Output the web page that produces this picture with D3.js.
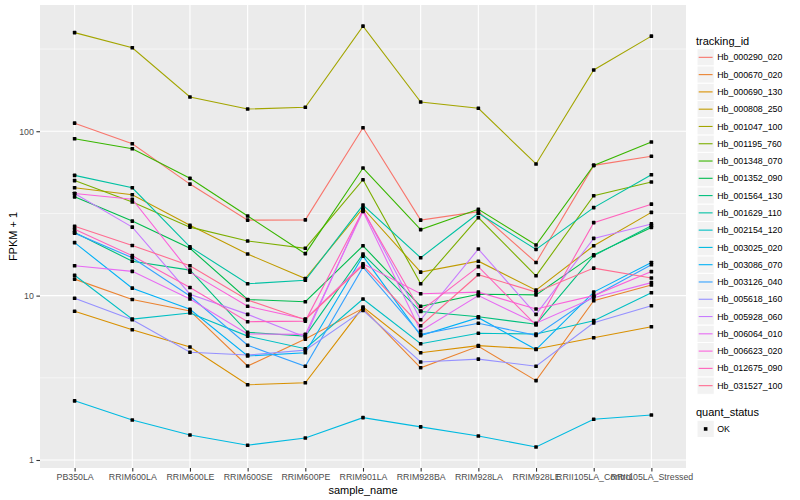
<!DOCTYPE html>
<html>
<head>
<meta charset="utf-8">
<script src="https://cdn.jsdelivr.net/npm/d3@7"></script>
<style>
  body { margin: 0; background: #fff; }
  text { font-family: "Liberation Sans", Arial, sans-serif; }
</style>
</head>
<body>
<div id="vis"></div>
<script>
const samples = ["PB350LA", "RRIM600LA", "RRIM600LE", "RRIM600SE", "RRIM600PE", "RRIM901LA",
  "RRIM928BA", "RRIM928LA", "RRIM928LE", "RRII105LA_Control", "RRII105LA_Stressed"];

const trackingIds = ["Hb_000290_020", "Hb_000670_020", "Hb_000690_130", "Hb_000808_250",
  "Hb_001047_100", "Hb_001195_760", "Hb_001348_070", "Hb_001352_090", "Hb_001564_130",
  "Hb_001629_110", "Hb_002154_120", "Hb_003025_020", "Hb_003086_070", "Hb_003126_040",
  "Hb_005618_160", "Hb_005928_060", "Hb_006064_010", "Hb_006623_020", "Hb_012675_090",
  "Hb_031527_100"];

// FPKM + 1, one list per tracking id, in sample order
const hb_000290_020 = [112, 84, 47.7, 28.8, 28.9, 105, 28.8, 32.4, 15.9, 62, 70.4];
const hb_000670_020 = [12.6, 9.47, 8.07, 3.73, 5.44, 8.37, 3.64, 4.92, 3.04, 9.31, 11.6];
const hb_000690_130 = [8.04, 6.2, 4.87, 2.87, 2.95, 8.52, 4.49, 4.96, 4.73, 5.54, 6.47];
const hb_000808_250 = [45.3, 41.1, 26.8, 17.9, 12.7, 34.0, 13.9, 16.2, 10.8, 20.1, 32.1];
const hb_001047_100 = [398, 322, 161.5, 136.5, 140, 436, 150.5, 138, 63.2, 236, 379];
const hb_001195_760 = [50.1, 37.1, 26.1, 21.5, 19.4, 50.7, 11.8, 29.8, 13.2, 40.5, 49.1];
const hb_001348_070 = [90, 78.3, 51.7, 30.5, 18.0, 59.7, 25.2, 33.5, 20.3, 62, 86];
const hb_001352_090 = [39.9, 28.4, 19.4, 9.47, 9.18, 20.1, 8.61, 10.2, 10.1, 17.7, 26.0];
const hb_001564_130 = [24.2, 16.2, 14.3, 5.98, 5.67, 17.9, 8.0, 7.44, 6.7, 17.5, 26.6];
const hb_001629_110 = [53.9, 45.3, 19.8, 11.8, 12.4, 35.5, 17.0, 31.7, 19.1, 34.3, 54.4];
const hb_002154_120 = [13.3, 7.2, 7.84, 5.67, 4.75, 9.54, 5.10, 5.90, 5.84, 7.04, 10.4];
const hb_003025_020 = [2.29, 1.75, 1.42, 1.23, 1.36, 1.81, 1.59, 1.40, 1.20, 1.77, 1.88];
const hb_003086_070 = [21.0, 11.1, 8.25, 4.29, 4.49, 17.4, 5.71, 7.34, 4.7, 10.5, 15.9];
const hb_003126_040 = [24.0, 17.0, 9.94, 4.99, 3.72, 14.9, 5.81, 6.79, 5.73, 9.9, 15.4];
const hb_005618_160 = [9.63, 7.13, 4.52, 4.35, 4.66, 8.13, 3.95, 4.11, 3.72, 6.83, 8.68];
const hb_005928_060 = [41.8, 26.1, 10.2, 7.69, 5.6, 33.4, 7.13, 19.2, 7.69, 22.3, 27.3];
const hb_006064_010 = [15.2, 14.05, 9.54, 5.84, 5.81, 32.5, 6.09, 10.0, 6.79, 9.71, 12.0];
const hb_006623_020 = [41.8, 38.6, 13.9, 8.61, 7.2, 15.6, 10.27, 10.5, 8.29, 10.0, 14.0];
const hb_012675_090 = [25.3, 17.5, 11.2, 6.94, 7.0, 33.0, 8.07, 15.0, 6.62, 27.8, 36];
const hb_031527_100 = [26.4, 20.2, 15.2, 9.4, 7.14, 15.3, 6.56, 13.4, 10.5, 14.7, 12.8];

const seriesValues = [hb_000290_020, hb_000670_020, hb_000690_130, hb_000808_250,
  hb_001047_100, hb_001195_760, hb_001348_070, hb_001352_090, hb_001564_130,
  hb_001629_110, hb_002154_120, hb_003025_020, hb_003086_070, hb_003126_040,
  hb_005618_160, hb_005928_060, hb_006064_010, hb_006623_020, hb_012675_090,
  hb_031527_100];

const yMajor = [1, 10, 100];
const yMinor = [Math.sqrt(10), Math.sqrt(1000), Math.sqrt(100000)];

// ggplot default hue palette for 20 levels
const palette = ["#F8766D", "#EA8331", "#D89000", "#C09B00", "#A3A500", "#7CAE00", "#39B600",
  "#00BB4E", "#00BF7D", "#00C1A3", "#00BFC4", "#00BAE0", "#00B0F6", "#35A2FF", "#9590FF",
  "#C77CFF", "#E76BF3", "#FA62DB", "#FF62BC", "#FF6C91"];

const width = 800, height = 500;
const panel = { left: 40, right: 686, top: 5, bottom: 468 };

const series = trackingIds.map((id, i) => ({
  id: id,
  color: palette[i],
  points: samples.map((s, j) => ({ sample: s, value: seriesValues[i][j] }))
}));

const svg = d3.select("#vis")
    .append("svg")
    .attr("width", width)
    .attr("height", height);

const x = d3.scalePoint()
    .domain(samples)
    .range([panel.left, panel.right])
    .padding(0.6);

const y = d3.scaleLog()
    .domain([Math.pow(10, -0.0487), Math.pow(10, 2.768)])
    .range([panel.bottom, panel.top]);

// panel background and grid
svg.append("rect")
    .attr("x", panel.left)
    .attr("y", panel.top)
    .attr("width", panel.right - panel.left)
    .attr("height", panel.bottom - panel.top)
    .attr("fill", "#EBEBEB");

svg.append("g").selectAll("line")
    .data(yMinor)
    .enter().append("line")
    .attr("x1", panel.left).attr("x2", panel.right)
    .attr("y1", d => y(d)).attr("y2", d => y(d))
    .attr("stroke", "#fff").attr("stroke-width", 0.55);

svg.append("g").selectAll("line")
    .data(yMajor)
    .enter().append("line")
    .attr("x1", panel.left).attr("x2", panel.right)
    .attr("y1", d => y(d)).attr("y2", d => y(d))
    .attr("stroke", "#fff").attr("stroke-width", 1.1);

svg.append("g").selectAll("line")
    .data(samples)
    .enter().append("line")
    .attr("x1", d => x(d)).attr("x2", d => x(d))
    .attr("y1", panel.top).attr("y2", panel.bottom)
    .attr("stroke", "#fff").attr("stroke-width", 1.1);

// lines
const line = d3.line()
    .x(d => x(d.sample))
    .y(d => y(d.value));

svg.append("g").selectAll("path")
    .data(series)
    .enter().append("path")
    .attr("d", d => line(d.points))
    .attr("fill", "none")
    .attr("stroke", d => d.color)
    .attr("stroke-width", 1.1);

// points (quant_status = OK)
const pts = series.flatMap(s => s.points);
svg.append("g").selectAll("rect")
    .data(pts)
    .enter().append("rect")
    .attr("x", d => x(d.sample) - 1.8)
    .attr("y", d => y(d.value) - 1.8)
    .attr("width", 3.6)
    .attr("height", 3.6)
    .attr("rx", 0.6)
    .attr("fill", "#000");

// axes
const xAxis = svg.append("g")
    .attr("transform", "translate(0," + panel.bottom + ")")
    .call(d3.axisBottom(x).tickSize(3.6).tickPadding(2));

const yAxis = svg.append("g")
    .attr("transform", "translate(" + panel.left + ",0)")
    .call(d3.axisLeft(y).tickValues(yMajor).tickFormat(d3.format("d")).tickSize(3.6).tickPadding(2.5));

[xAxis, yAxis].forEach(a => {
  a.select(".domain").remove();
  a.selectAll(".tick line").attr("stroke", "#333").attr("stroke-width", 1.1);
  a.selectAll(".tick text")
      .attr("fill", "#4D4D4D")
      .style("font-size", "8.8px")
      .style("font-family", "'Liberation Sans', Arial, sans-serif");
});

svg.append("text")
    .attr("x", (panel.left + panel.right) / 2)
    .attr("y", 494)
    .attr("text-anchor", "middle")
    .style("font-size", "11px")
    .text("sample_name");

svg.append("text")
    .attr("transform", "translate(17," + ((panel.top + panel.bottom) / 2) + ") rotate(-90)")
    .attr("text-anchor", "middle")
    .style("font-size", "11px")
    .text("FPKM + 1");

// legend: tracking_id
const legend = svg.append("g");
const keyX = 697, keySize = 17.28, key0 = 48.7;

legend.append("text")
    .attr("x", 696)
    .attr("y", 44.5)
    .style("font-size", "11px")
    .text("tracking_id");

const keys = legend.selectAll(".key")
    .data(series)
    .enter().append("g")
    .attr("class", "key")
    .attr("transform", (d, i) => "translate(" + keyX + "," + (key0 + i * keySize) + ")");

keys.append("rect")
    .attr("width", keySize)
    .attr("height", keySize)
    .attr("fill", "#F2F2F2")
    .attr("stroke", "#fff")
    .attr("stroke-width", 1);

keys.append("line")
    .attr("x1", 1.7).attr("x2", keySize - 1.7)
    .attr("y1", keySize / 2).attr("y2", keySize / 2)
    .attr("stroke", d => d.color)
    .attr("stroke-width", 1.1);

keys.append("text")
    .attr("x", keySize + 3)
    .attr("y", keySize / 2 + 3.1)
    .style("font-size", "8.8px")
    .text(d => d.id);

// legend: quant_status
legend.append("text")
    .attr("x", 696)
    .attr("y", 416)
    .style("font-size", "11px")
    .text("quant_status");

const okKey = legend.append("g")
    .attr("transform", "translate(" + keyX + ",420.3)");

okKey.append("rect")
    .attr("width", keySize)
    .attr("height", keySize)
    .attr("fill", "#F2F2F2")
    .attr("stroke", "#fff");

okKey.append("rect")
    .attr("x", keySize / 2 - 1.8)
    .attr("y", keySize / 2 - 1.8)
    .attr("width", 3.6)
    .attr("height", 3.6)
    .attr("fill", "#000");

okKey.append("text")
    .attr("x", keySize + 3)
    .attr("y", keySize / 2 + 3.1)
    .style("font-size", "8.8px")
    .text("OK");
</script>
</body>
</html>
